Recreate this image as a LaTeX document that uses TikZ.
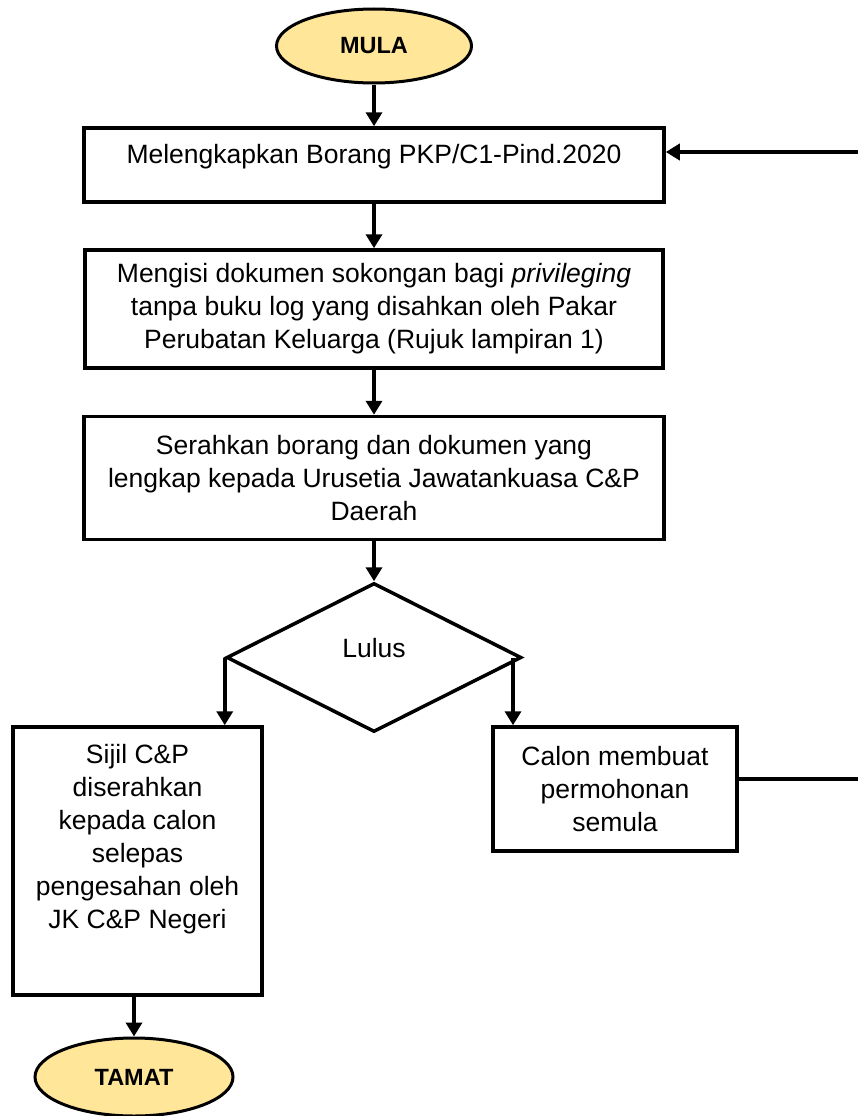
\documentclass[tikz,border=0pt]{standalone}
\usepackage{fontspec}
\setmainfont{Liberation Sans}
\usetikzlibrary{arrows.meta,shapes.geometric}
\definecolor{startgold}{HTML}{FFE699}

\begin{document}
\begin{tikzpicture}[x=1pt,y=-1pt,
    stepbox/.style={draw,line width=3.5pt,align=center,inner sep=0pt,
        font=\fontsize{26.5}{33}\selectfont},
    terminal/.style={draw,ellipse,fill=startgold,line width=3pt,inner sep=0pt,
        font=\fontsize{23.5}{28}\selectfont\bfseries},
    decision/.style={draw,diamond,line width=3.5pt,inner sep=0pt,
        font=\fontsize{26.5}{33}\selectfont},
    flow/.style={line width=3.5pt,-{Triangle[length=14pt,width=16pt]}}]
  \useasboundingbox (0,0) rectangle (858,1116);

  \node[terminal,minimum width=195,minimum height=74] (mula) at (374,46) {MULA};
  \node[stepbox,minimum width=580,minimum height=74,text depth=22]
        (borang) at (374,165)
        {Melengkapkan Borang PKP/C1-Pind.2020};
  \node[stepbox,minimum width=578,minimum height=118]
        (dokumen) at (374,309)
        {Mengisi dokumen sokongan bagi \textit{privileging}\\
         tanpa buku log yang disahkan oleh Pakar\\
         Perubatan Keluarga (Rujuk lampiran 1)};
  \node[stepbox,minimum width=580,minimum height=123]
        (serah) at (374,478)
        {Serahkan borang dan dokumen yang\\
         lengkap kepada Urusetia Jawatankuasa C\&P\\
         Daerah};
  \node[decision,minimum width=295,minimum height=149,text depth=19]
        (lulus) at (374,657.5) {Lulus};
  \node[stepbox,minimum width=249,minimum height=268,text depth=50]
        (sijil) at (137.5,861)
        {Sijil C\&P\\ diserahkan\\ kepada calon\\ selepas\\
         pengesahan oleh\\ JK C\&P Negeri};
  \node[stepbox,minimum width=244,minimum height=124]
        (calon) at (615,789)
        {Calon membuat\\ permohonan\\ semula};
  \node[terminal,minimum width=198,minimum height=78] (tamat) at (134,1077) {TAMAT};

  \coordinate (tidak) at (513,657.5);
  \coordinate (ulang) at (858,152);
  \coordinate (keluar) at (858,779);

  \draw[flow] (mula) -- (borang);
  \draw[flow] (borang) -- (dokumen);
  \draw[flow] (dokumen) -- (serah);
  \draw[flow] (serah) -- (lulus);
  \draw[flow] (lulus.west) -- (lulus.west |- sijil.north);
  \draw[flow] (tidak) -- (tidak |- calon.north);
  \draw[flow] (tamat.north |- sijil.south) -- (tamat.north);
  \draw[line width=3.5pt] (calon.east |- keluar) -- (keluar);
  \draw[flow] (ulang) -- (ulang -| borang.east);
\end{tikzpicture}
\end{document}
